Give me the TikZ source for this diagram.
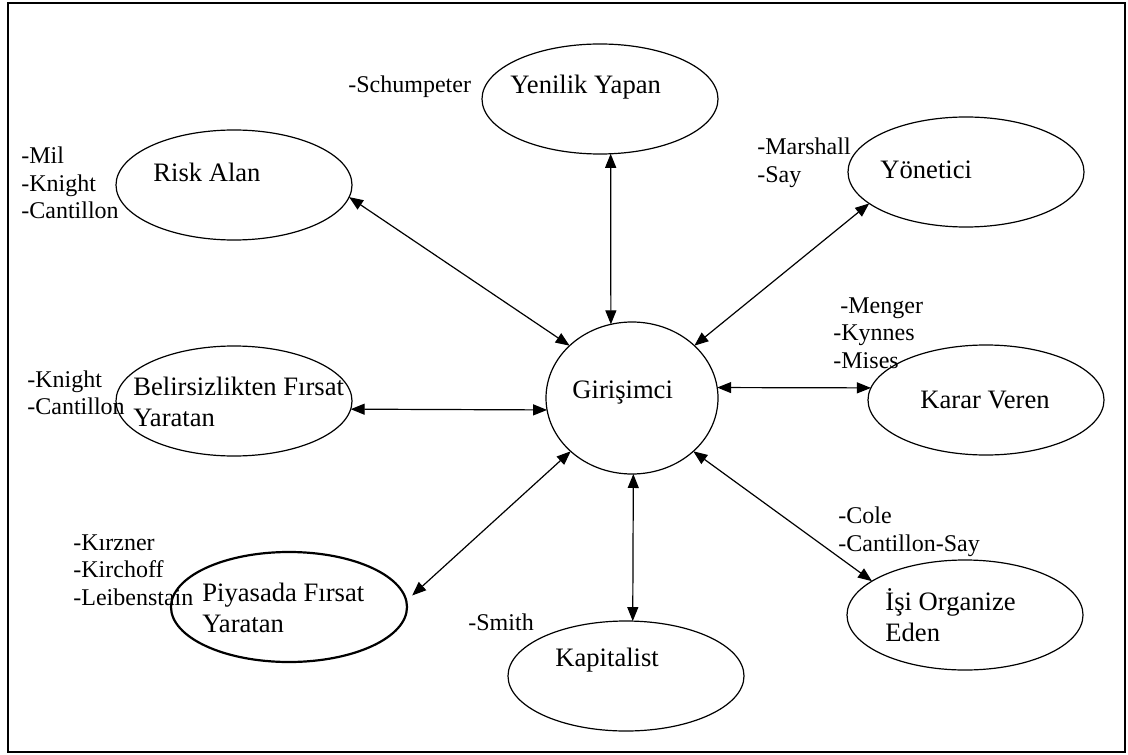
\documentclass[tikz,border=0pt]{standalone}
\usepackage{fontspec}
\setmainfont{Liberation Serif}
\usetikzlibrary{shapes.geometric,arrows.meta}

\begin{document}
\begin{tikzpicture}[x=0.5pt,y=-0.5pt,
		rol/.style={draw, ellipse, line width=0.6pt, outer sep=0pt, inner sep=0pt, minimum width=118pt, minimum height=55pt},
		rolname/.style={anchor=west, inner sep=0pt, align=left, font=\fontsize{13.3}{15.5}\selectfont},
		names/.style={anchor=west, inner sep=0pt, align=left, font=\fontsize{12}{13.75}\selectfont},
		link/.style={{Triangle[length=7pt,width=5.5pt]}-{Triangle[length=7pt,width=5.5pt]}, line width=0.6pt}]
		\useasboundingbox (0,0) rectangle (1128,754);
		\draw[line width=1pt] (8,3) rectangle (1125,752);
		% centre
		\node[rol, minimum width=86pt, minimum height=76pt] (gir) at (632,398) {};
		\node[rolname] (gir-t) at (572,393) {Girişimci};
		% roles round the centre
		\node[rol] (yen) at (600,99) {};
		\node[rol] (risk) at (234,185) {};
		\node[rol] (yon) at (966,172) {};
		\node[rol] (bel) at (234,401) {};
		\node[rol] (kar) at (986,400) {};
		\node[rol, line width=1.1pt] (piy) at (289,607) {};
		\node[rol] (isi) at (965,615) {};
		\node[rol] (kap) at (626,676) {};
		\node[rolname] (yen-t) at (510,87) {Yenilik Yapan};
		\node[rolname] (risk-t) at (153,172) {Risk Alan};
		\node[rolname] (yon-t) at (880,170) {Yönetici};
		\node[rolname] (bel-t) at (133,402) {Belirsizlikten Fırsat\\Yaratan};
		\node[rolname] (kar-t) at (920,400) {Karar Veren};
		\node[rolname] (piy-t) at (202,608) {Piyasada Fırsat\\Yaratan};
		\node[rolname] (isi-t) at (885,615) {İşi Organize\\Eden};
		\node[rolname] (kap-t) at (555,660) {Kapitalist};
		% authors
		\node[names] (yen-n) at (348,87) {-Schumpeter};
		\node[names] (risk-n) at (21,183) {-Mil\\-Knight\\-Cantillon};
		\node[names] (yon-n) at (757,163) {-Marshall\\-Say};
		\node[names] (bel-n) at (27,393) {-Knight\\-Cantillon};
		\node[names] (kar-n) at (833,333) {\hspace{3.5pt}-Menger\\-Kynnes\\-Mises};
		\node[names] (piy-n) at (73,570) {-Kırzner\\-Kirchoff\\-Leibenstain};
		\node[names] (isi-n) at (838,532) {-Cole\\-Cantillon-Say};
		\node[names] (kap-n) at (468,622) {-Smith};
		% links
		\draw[link] (yen.-79) -- (gir.106);
		\draw[link] (risk.-6) -- (gir.140);
		\draw[link] (yon.198) -- (gir.40);
		\draw[link] (bel.-4) -- (gir.188);
		\draw[link] (kar.174) -- (gir.7);
		\draw[link, shorten <=4pt] (piy.3) -- (gir.221);
		\draw[link] (isi.160) -- (gir.-41);
		\draw[link] (kap.83) -- (gir.-89);
	\end{tikzpicture}
\end{document}
